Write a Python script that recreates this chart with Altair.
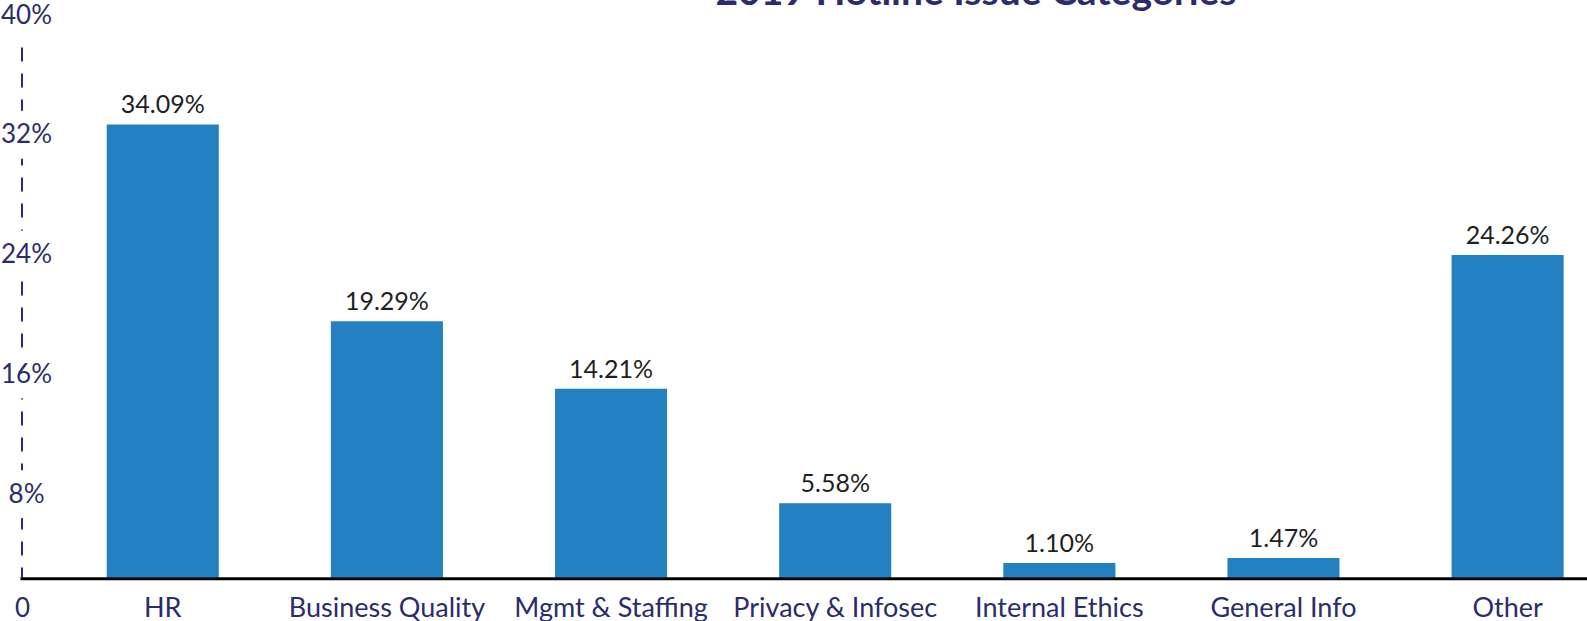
import altair as alt
import pandas as pd

# ---- data ----
categories = ["HR", "Business Quality", "Mgmt & Staffing", "Privacy & Infosec",
              "Internal Ethics", "General Info", "Other"]
shares = [34.09, 19.29, 14.21, 5.58, 1.10, 1.47, 24.26]
share_labels = ["34.09%", "19.29%", "14.21%", "5.58%", "1.10%", "1.47%", "24.26%"]
y_ticks = [0, 8, 16, 24, 32, 40]
y_tick_labels = ["0", "8%", "16%", "24%", "32%", "40%"]
title_text = "2019 Hotline Issue Categories"

# ---- style ----
NAVY = "#2b2c6b"
BLUE = "#2481c1"
FONT = "Lato"
W, H = 1567, 599
BAR_DOMAIN = [-2.746, 42.325]

bars_df = pd.DataFrame({"category": categories, "share": shares, "label": share_labels})
ticks_df = pd.DataFrame({"tick": y_ticks, "tick_label": y_tick_labels})
title_df = pd.DataFrame({"t": [title_text]})

label_expr = "''"
for t, l in zip(y_ticks, y_tick_labels):
    label_expr = f"datum.value == {t} ? '{l}' : ({label_expr})"

yb = alt.Scale(domain=BAR_DOMAIN, nice=False, zero=False)
x_enc = alt.X(
    "category:N", sort=categories,
    scale=alt.Scale(paddingInner=0.5, paddingOuter=0.2455, align=0.788),
    axis=alt.Axis(orient="bottom", offset=-35.7, domainColor="black", domainWidth=3,
                  ticks=False, tickSize=0, labelAngle=0, labelFontSize=27,
                  labelColor=NAVY, labelFont=FONT, labelPadding=38,
                  labelBaseline="alphabetic", labelLimit=0, labelOverlap=False,
                  title=None, grid=False, zindex=1),
)

base = alt.Chart(bars_df)
bars = base.mark_bar(color=BLUE).encode(
    x=x_enc, y=alt.Y("share:Q", scale=yb, axis=None)
)
labels = base.mark_text(dy=-11, baseline="alphabetic", fontSize=25, font=FONT,
                        color="#1f1f1f").encode(
    x=alt.X("category:N", sort=categories),
    y=alt.Y("share:Q", scale=yb, axis=None),
    text="label:N",
)
dash = alt.Chart(pd.DataFrame({"zero": [0]})).mark_rule(
    color=NAVY, strokeWidth=2, strokeDash=[14, 12], strokeDashOffset=4
).encode(
    x=alt.value(2),
    y=alt.Y("zero:Q", scale=yb, axis=None),
    y2=alt.value(0),
)
title_mark = alt.Chart(title_df).mark_text(
    font=FONT, fontSize=39, fontWeight="bold", color=NAVY,
    baseline="alphabetic", align="center"
).encode(text="t:N", x=alt.value(956), y=alt.value(-10))

inner = alt.layer(dash, bars, labels, title_mark)

mask = alt.Chart(ticks_df).transform_calculate(
    lo="datum.tick - 1.6", hi="min(datum.tick + 1.6, 40)"
).mark_rect(color="white").encode(
    y=alt.Y("lo:Q", scale=alt.Scale(domain=[0, 40], nice=False),
            axis=alt.Axis(values=y_ticks, labelExpr=label_expr, orient="left",
                          offset=-6, domain=False, ticks=False, tickSize=0,
                          grid=False,
                          labelPadding={"condition": {"test": "datum.value == 0", "value": 4}, "value": 0},
                          labelOffset={"condition": {"test": "datum.value == 0", "value": -6}, "value": 0},
                          labelAlign="center",
                          labelBaseline="middle", labelFontSize=26,
                          labelColor=NAVY, labelFont=FONT, title=None, zindex=1)),
    y2="hi:Q",
    x=alt.value(-6),
    x2=alt.value(10),
)

chart = alt.layer(inner, mask).resolve_scale(y="independent").properties(
    width=W, height=H,
    autosize=alt.AutoSizeParams(type="none"),
    padding={"left": 20, "top": 15, "right": 0, "bottom": 7},
    background="white",
).configure_view(stroke=None)

chart.save("out.html", embed_options={"renderer": "svg", "actions": False})
